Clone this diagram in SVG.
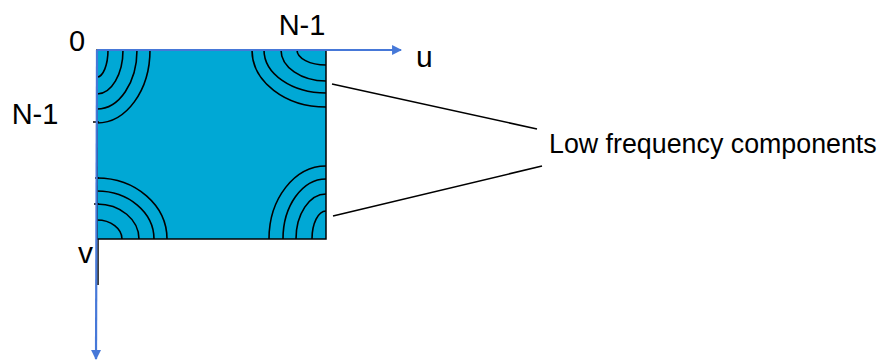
<svg xmlns="http://www.w3.org/2000/svg" width="881" height="360" viewBox="0 0 881 360">
<style>
  .lbl { font-family: "Liberation Sans", Arial, sans-serif; fill: #000; }
  .arc { fill: none; stroke: #000; stroke-width: 1.6; }
  .ln { stroke: #000; stroke-width: 1.5; fill: none; }
  .axis { stroke: #4678D8; stroke-width: 2.2; fill: none; }
</style>
<defs>
  <marker id="arr" viewBox="0 0 10 10" refX="9" refY="5" markerWidth="4.5" markerHeight="4.5" orient="auto" markerUnits="strokeWidth">
    <path d="M0,0 L10,5 L0,10 z" fill="#4678D8"/>
  </marker>
</defs>
<g id="spectrum">
  <rect x="97" y="50" width="229" height="189" fill="#00A8D5" stroke="#000" stroke-width="1.5"/>
  <line class="ln" x1="98" y1="239" x2="98" y2="285"/>
  <line class="ln" x1="93" y1="122" x2="99" y2="122"/>
  <line class="ln" x1="95" y1="178" x2="99" y2="178"/>
  <line class="ln" x1="94" y1="204" x2="99" y2="204"/>
  <!-- top-left arcs -->
  <path class="arc" d="M108,50 A11 27 0 0 1 97,77"/>
  <path class="arc" d="M123,50 A26 44 0 0 1 97,94"/>
  <path class="arc" d="M137,50 A40 59 0 0 1 97,109"/>
  <path class="arc" d="M150,50 A53 73 0 0 1 97,123"/>
  <!-- top-right arcs -->
  <path class="arc" d="M297,50 A29 15 0 0 0 326,65"/>
  <path class="arc" d="M281,50 A45 31 0 0 0 326,81"/>
  <path class="arc" d="M264,50 A62 43 0 0 0 326,93"/>
  <path class="arc" d="M252,50 A74 57 0 0 0 326,107"/>
  <!-- bottom-left arcs -->
  <path class="arc" d="M97,220 A25 19 0 0 1 122,239"/>
  <path class="arc" d="M97,204 A42 35 0 0 1 139,239"/>
  <path class="arc" d="M97,191 A57 48 0 0 1 154,239"/>
  <path class="arc" d="M97,178 A70 61 0 0 1 167,239"/>
  <!-- bottom-right arcs -->
  <path class="arc" d="M326,211 A14 28 0 0 0 312,239"/>
  <path class="arc" d="M326,194 A30 45 0 0 0 296,239"/>
  <path class="arc" d="M326,179 A43 60 0 0 0 283,239"/>
  <path class="arc" d="M326,166 A57 73 0 0 0 269,239"/>
</g>
<g id="connectors">
  <line class="axis" x1="97" y1="50" x2="401" y2="50" marker-end="url(#arr)"/>
  <line class="axis" x1="97" y1="50" x2="96" y2="359" marker-end="url(#arr)"/>
  <line class="ln" x1="332" y1="84" x2="537" y2="129"/>
  <line class="ln" x1="333" y1="216" x2="542" y2="166"/>
</g>
<g id="labels">
  <text class="lbl" x="69" y="51" font-size="29">0</text>
  <text class="lbl" x="302" y="35" font-size="29" text-anchor="middle">N-1</text>
  <text class="lbl" x="416" y="67" font-size="30">u</text>
  <text class="lbl" x="35" y="124" font-size="29" text-anchor="middle">N-1</text>
  <text class="lbl" x="78" y="263" font-size="30">v</text>
  <text class="lbl" x="549" y="153" font-size="26.8">Low frequency components</text>
</g>
</svg>
